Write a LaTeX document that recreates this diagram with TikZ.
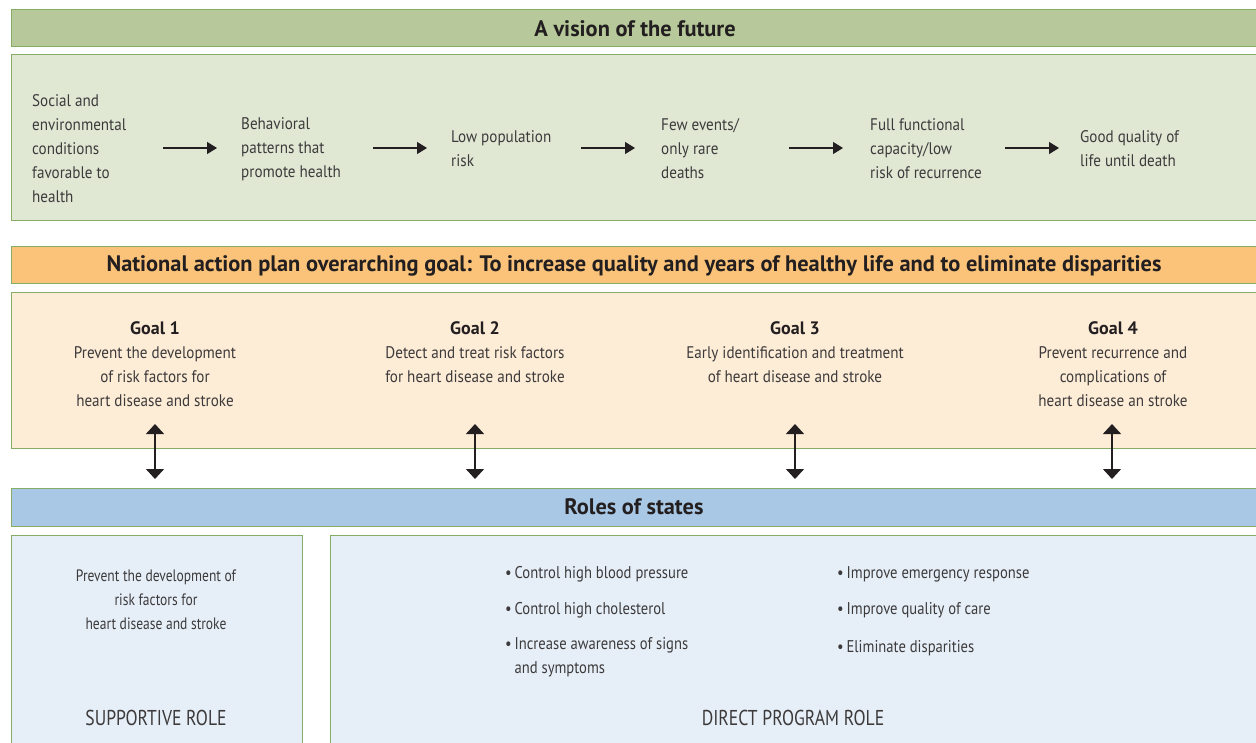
\documentclass[tikz,border=0pt]{standalone}
\usepackage{fontspec}
\setmainfont[FakeStretch=0.9]{PT Sans}
\newfontfamily\condfont[FakeStretch=0.86]{PT Sans}
\newfontfamily\suppfont[FakeStretch=0.82]{PT Sans}
\newfontfamily\hdrfont{PT Sans}
\usetikzlibrary{arrows.meta}
\definecolor{hdrgreen}{HTML}{B7C99A}
\definecolor{bodygreen}{HTML}{E0E8D4}
\definecolor{edgegreen}{HTML}{86AD66}
\definecolor{hdrorange}{HTML}{FAC379}
\definecolor{bodyorange}{HTML}{FDECD6}
\definecolor{hdrblue}{HTML}{A8C8E6}
\definecolor{bodyblue}{HTML}{E6EFF8}
\definecolor{txt}{HTML}{3C3A3B}
\definecolor{dark}{HTML}{231F20}
\tikzset{
  panel/.style={draw=edgegreen, line width=1pt},
  hdrtext/.style={font=\hdrfont\fontsize{22.4}{26}\selectfont\bfseries, text=dark},
  bodytext/.style={font=\fontsize{16.8}{24}\selectfont, text=txt, align=left, anchor=west, inner sep=0pt},
  goaltext/.style={font=\fontsize{16.8}{24}\selectfont, text=txt, align=center, anchor=north, inner sep=0pt},
  bullettext/.style={font=\condfont\fontsize{17}{24}\selectfont, text=txt, align=left, anchor=west, inner sep=0pt},
  flowarrow/.style={line width=1.3pt, draw=dark, -{Triangle[length=10pt,width=12pt]}},
  dblarrow/.style={line width=1.3pt, draw=dark, {Triangle[length=10pt,width=18pt]}-{Triangle[length=10pt,width=18pt]}},
  roletext/.style={font=\suppfont\fontsize{21.5}{24}\selectfont, text=txt, inner sep=0pt},
}
\newcommand{\goalhd}[1]{{\hdrfont\fontsize{18}{24}\selectfont\bfseries\textcolor{dark}{#1}}}
\begin{document}
\begin{tikzpicture}[x=1pt,y=-1pt]
\useasboundingbox (0,0) rectangle (1256,742);
\fill[white] (0,0) rectangle (1256,742);
% --- vision ---
\draw[panel, fill=hdrgreen] (11,9) rectangle (1262,46);
\node[hdrtext] (vhead) at (635,29) {A vision of the future};
\draw[panel, fill=bodygreen] (11,54) rectangle (1262,220);
\node[bodytext] (v1) at (32,149) {Social and\\environmental\\conditions\\favorable to\\health};
\node[bodytext] (v2) at (241,149) {Behavioral\\patterns that\\promote health};
\node[bodytext] (v3) at (451,149) {Low population\\risk};
\node[bodytext] (v4) at (661,149) {Few events/\\only rare\\deaths};
\node[bodytext] (v5) at (870,149) {Full functional\\capacity/low\\risk of recurrence};
\node[bodytext] (v6) at (1080,149) {Good quality of\\life until death};
\coordinate (a1s) at (163,148); \coordinate (a1e) at (217,148);
\coordinate (a2s) at (373,148); \coordinate (a2e) at (427,148);
\coordinate (a3s) at (581,148); \coordinate (a3e) at (635,148);
\coordinate (a4s) at (789,148); \coordinate (a4e) at (843,148);
\coordinate (a5s) at (1005,148); \coordinate (a5e) at (1059,148);
\draw[flowarrow] (a1s) -- (a1e);
\draw[flowarrow] (a2s) -- (a2e);
\draw[flowarrow] (a3s) -- (a3e);
\draw[flowarrow] (a4s) -- (a4e);
\draw[flowarrow] (a5s) -- (a5e);
% --- goals ---
\draw[panel, fill=hdrorange] (11,246) rectangle (1262,283);
\node[hdrtext] (ghead) at (634,266) {National action plan overarching goal: To increase quality and years of healthy life and to eliminate disparities};
\draw[panel, fill=bodyorange] (11,292) rectangle (1262,448);
\node[goaltext] (g1) at (155,321) {\goalhd{Goal 1}\\Prevent the development\\of risk factors for\\heart disease and stroke};
\node[goaltext] (g2) at (475,321) {\goalhd{Goal 2}\\Detect and treat risk factors\\for heart disease and stroke};
\node[goaltext] (g3) at (795,321) {\goalhd{Goal 3}\\Early identification and treatment\\of heart disease and stroke};
\node[goaltext] (g4) at (1113,321) {\goalhd{Goal 4}\\Prevent recurrence and\\complications of\\heart disease an stroke};
\coordinate (d1t) at (155,424); \coordinate (d1b) at (155,479);
\coordinate (d2t) at (475,424); \coordinate (d2b) at (475,479);
\coordinate (d3t) at (795,424); \coordinate (d3b) at (795,479);
\coordinate (d4t) at (1112,424); \coordinate (d4b) at (1112,479);
\draw[dblarrow] (d1t) -- (d1b);
\draw[dblarrow] (d2t) -- (d2b);
\draw[dblarrow] (d3t) -- (d3b);
\draw[dblarrow] (d4t) -- (d4b);
% --- roles ---
\draw[panel, fill=hdrblue] (11,488) rectangle (1262,526);
\node[hdrtext] (rhead) at (634,507) {Roles of states};
\draw[panel, fill=bodyblue] (11,535) rectangle (302,750);
\draw[panel, fill=bodyblue] (330,535) rectangle (1262,750);
\node[goaltext, font=\suppfont\fontsize{16.5}{24}\selectfont] (s1) at (156,570) {Prevent the development of\\risk factors for\\heart disease and stroke};
\node[roletext] (s2) at (156,718) {SUPPORTIVE ROLE};
\node[bullettext] (b1) at (505,574) {\textbullet\,Control high blood pressure};
\node[bullettext] (b2) at (505,610) {\textbullet\,Control high cholesterol};
\node[bullettext, anchor=north west] (b3) at (505,637) {\textbullet\,Increase awareness of signs\\\hphantom{\textbullet\,}and symptoms};
\node[bullettext] (b4) at (837,574) {\textbullet\,Improve emergency response};
\node[bullettext] (b5) at (837,610) {\textbullet\,Improve quality of care};
\node[bullettext] (b6) at (837,648) {\textbullet\,Eliminate disparities};
\node[roletext] (d0) at (793,718) {DIRECT PROGRAM ROLE};
\end{tikzpicture}
\end{document}
